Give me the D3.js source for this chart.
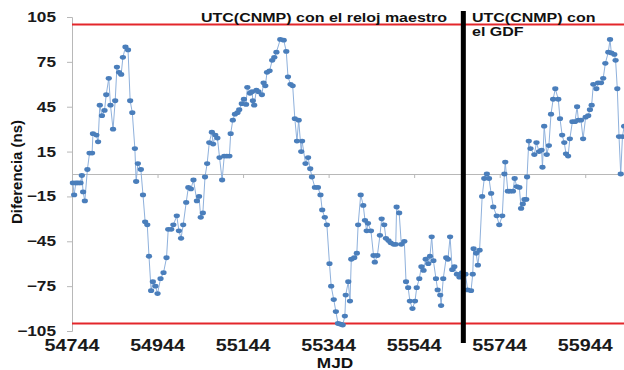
<!DOCTYPE html>
<html>
<head>
<meta charset="utf-8">
<script src="https://cdn.jsdelivr.net/npm/d3@7"></script>
<style>
  body { margin: 0; background: #fff; }
  svg { display: block; font-family: "Liberation Sans", Arial, sans-serif; }
</style>
</head>
<body>
<svg id="chart" width="624" height="370"></svg>
<script>
// MJD of each measurement
const mjd = [54746,54749,54753,54758,54764,54767,54770,54774,54780,54785,54791,54793,54801,54805,54809,54814,54820,54824,54830,54834,
  54840,54845,54849,54854,54859,54863,54869,54875,54880,54885,54891,54894,54898,54905,54910,54915,54920,54924,54929,54933,
  54939,54944,54951,54958,54965,54969,54976,54981,54989,54994,54999,55004,55011,55016,55022,55028,55036,55041,55045,55050,
  55055,55060,55065,55071,55074,55079,55084,55089,55095,55100,55106,55112,55115,55120,55125,55131,55135,55141,55146,55151,
  55154,55160,55165,55167,55170,55175,55180,55188,55192,55196,55200,55206,55212,55217,55222,55231,55239,55245,55249,55255,
  55260,55265,55270,55274,55280,55282,55290,55296,55301,55305,55312,55319,55325,55329,55335,55340,55346,55350,55356,55361,
  55366,55372,55377,55382,55384,55390,55394,55397,55404,55410,55413,55419,55425,55429,55433,55436,55443,55449,55452,55458,
  55464,55468,55474,55478,55484,55489,55496,55501,55503,55509,55514,55521,55525,55530,55534,55540,55546,55550,55556,55561,
  55566,55571,55577,55581,55585,55589,55595,55599,55605,55607,55612,55619,55623,55628,55633,55638,55644,55650,55656,55664,
  55669,55677,55681,55683,55689,55693,55697,55703,55708,55714,55719,55724,55729,55737,55743,55750,55755,55757,55763,55768,
  55775,55779,55784,55790,55794,55798,55802,55806,55808,55812,55816,55825,55830,55836,55842,55844,55848,55854,55859,55864,
  55869,55874,55881,55885,55890,55895,55899,55904,55908,55914,55920,55925,55928,55934,55939,55945,55951,55955,55959,55963,
  55970,55974,55981,55986,55991,55998,56002,56005,56012,56015,56019,56023,56027,56031,56035];

// UTC(CNMP) difference, ns
const diff = [-6,-14,-6,-6,-6,-1,-12,-18,3,14,14,27,26,21.5,46,39,42.5,53,64,46,
  30,49,71.5,68,66.6,78,85,83,49,41,17,-5,7,3,-14,-32,-34,-55,-78,-72,
  -75,-80,-70,-66,-56,-37,-37,-34,-28,-38,-43,-34,-19,-9,-10,-4,-18,-15,-29,-26,
  -2,7,21,28,20,26,24,11,-4,12,12,12,27,36,40,41,43,47,50,46.5,
  58,54,55,49,46,56,55,53,61,59,68,69,76,78,81.5,90,89.5,82,65,60,
  59,37,22,36,15,22,7,11,3.5,-2,-9,-9,-14,-24,-29,-34,-60,-75,-84,-92,
  -100,-100.5,-101,-95,-81,-72,-85,-57,-56,-53,-34,-14,-21,-31,-38,-33,-38,-54.5,-59,-54.5,
  -41,-30,-34,-43,-44.5,-46,-47,-47,-22,-26,-47,-45,-72,-76,-85,-90,-85,-76,-70,-62,
  -64.5,-57,-60,-55,-42,-58,-70,-77.5,-81,-88,-70,-56,-57,-42,-64,-62,-67,-69,-66,-67,
  -77.5,-78,-67,-50,-53,-61,-51,-15,-3,0,-3,-13,-22,-28,-34,-28,0,8,-11.5,-11.5,
  -11.5,-3,-8.4,-9,-23,-20,-17,-17,-2,22,17,13,21,15,16,4.5,32,13,19,40,
  50,57,50,37,26,21,13.5,12,23.5,35,35,45,36,36,23.5,38,39,43,46,60,
  57,61,61,64,74,81.5,90,81,80,76,57,25,0,25,32];

const yTicks = [-105, -75, -45, -15, 15, 45, 75, 105];
const xTicks = [54744, 54944, 55144, 55344, 55544, 55744, 55944];
const limits = [100, -100];
const changeMjd = 55659;

const data = mjd.map((m, i) => ({ m: m, v: diff[i] }));

const svg = d3.select("#chart");
const plotLeft = 72, plotRight = 628, plotTop = 17, plotBottom = 331;

const x = d3.scaleLinear().domain([54744, 56044]).range([plotLeft, plotRight]);
const y = d3.scaleLinear().domain([-105, 105]).range([plotBottom, plotTop]);

// stretch text horizontally like the source image
function widen(sel, k) {
  sel.each(function () {
    const len = this.getComputedTextLength();
    d3.select(this).attr("textLength", len * k).attr("lengthAdjust", "spacingAndGlyphs");
  });
}

// y axis
const yAxis = svg.append("g")
  .attr("transform", "translate(" + plotLeft + ",0)")
  .call(d3.axisLeft(y).tickValues(yTicks).tickSize(5).tickPadding(10));
yAxis.select(".domain").attr("stroke", "#b8b8b8");
yAxis.selectAll(".tick line").attr("stroke", "#b8b8b8");
yAxis.selectAll("text")
  .style("font-size", "14px").style("font-weight", "bold").attr("fill", "#1a1a1a")
  .attr("x", -16)
  .call(widen, 1.23);

// x axis line at zero, labels at the bottom
const xAxis = svg.append("g")
  .attr("transform", "translate(0," + y(0) + ")")
  .call(d3.axisBottom(x).tickValues(xTicks).tickSize(4).tickFormat(""));
xAxis.select(".domain").attr("stroke", "#b8b8b8");
xAxis.selectAll(".tick line").attr("stroke", "#b8b8b8");

svg.append("g").selectAll("text")
  .data(xTicks)
  .enter()
  .append("text")
  .attr("x", d => x(d))
  .attr("y", 351)
  .attr("text-anchor", "middle")
  .style("font-size", "16px").style("font-weight", "bold").attr("fill", "#1a1a1a")
  .text(d => d)
  .call(widen, 1.23);

// limit lines
svg.append("g").selectAll("line")
  .data(limits)
  .enter()
  .append("line")
  .attr("x1", plotLeft).attr("x2", 624)
  .attr("y1", d => y(d)).attr("y2", d => y(d))
  .attr("stroke", "#e3262b").attr("stroke-width", 2.2);

// series
svg.append("path")
  .datum(data)
  .attr("fill", "none")
  .attr("stroke", "#8fb1dc")
  .attr("stroke-width", 1)
  .attr("d", d3.line().x(d => x(d.m)).y(d => y(d.v)));

svg.append("g").selectAll("ellipse")
  .data(data)
  .enter()
  .append("ellipse")
  .attr("cx", d => x(d.m))
  .attr("cy", d => y(d.v))
  .attr("rx", 3.1)
  .attr("ry", 2.4)
  .attr("fill", "#4a7ebb");

// change of reference
svg.append("line")
  .attr("x1", x(changeMjd)).attr("x2", x(changeMjd))
  .attr("y1", 11).attr("y2", 343)
  .attr("stroke", "#000").attr("stroke-width", 5);

// labels
const bold = sel => sel.style("font-weight", "bold").attr("fill", "#111");

svg.append("text").attr("x", 201).attr("y", 22).style("font-size", "13px").call(bold)
  .text("UTC(CNMP) con el reloj maestro").call(widen, 1.23);
svg.append("text").attr("x", 472).attr("y", 22).style("font-size", "13px").call(bold)
  .text("UTC(CNMP) con").call(widen, 1.23);
svg.append("text").attr("x", 472).attr("y", 36).style("font-size", "13px").call(bold)
  .text("el GDF").call(widen, 1.23);

svg.append("text").attr("x", 335).attr("y", 368).attr("text-anchor", "middle")
  .style("font-size", "14px").call(bold).text("MJD").call(widen, 1.23);

svg.append("text")
  .attr("transform", "translate(22,172) rotate(-90)")
  .attr("text-anchor", "middle")
  .style("font-size", "15px").call(bold)
  .text("Diferencia (ns)");
</script>
</body>
</html>
